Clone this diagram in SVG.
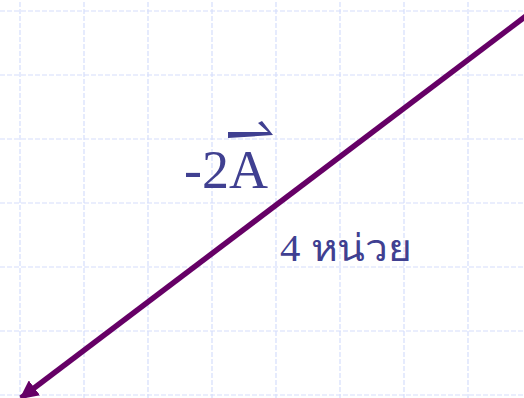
<svg xmlns="http://www.w3.org/2000/svg" width="524" height="398" viewBox="0 0 524 398">
  <style>
    .grid line { stroke: #d5defc; stroke-width: 1.2; stroke-dasharray: 5 2; }
    .lbl { font-family: "Liberation Serif", "Times New Roman", serif; fill: #404091; }
    .vec { stroke: #660066; stroke-width: 5.5; fill: none; }
  </style>
  <defs>
    <marker id="head" viewBox="0 0 10 10" refX="9" refY="5" markerWidth="3.4" markerHeight="3.4" orient="auto" markerUnits="strokeWidth">
      <path d="M0,0 L10,5 L0,10 Z" fill="#660066"/>
    </marker>
  </defs>
  <rect width="524" height="398" fill="#ffffff"/>
  <g id="grid" class="grid">
    <line x1="0" y1="11" x2="524" y2="11"/>
    <line x1="0" y1="75" x2="524" y2="75"/>
    <line x1="0" y1="139" x2="524" y2="139"/>
    <line x1="0" y1="203" x2="524" y2="203"/>
    <line x1="0" y1="267" x2="524" y2="267"/>
    <line x1="0" y1="331" x2="524" y2="331"/>
    <line x1="0" y1="395" x2="524" y2="395"/>
    <line x1="20" y1="2" x2="20" y2="398"/>
    <line x1="84" y1="2" x2="84" y2="398"/>
    <line x1="148" y1="2" x2="148" y2="398"/>
    <line x1="212" y1="2" x2="212" y2="398"/>
    <line x1="276" y1="2" x2="276" y2="398"/>
    <line x1="340" y1="2" x2="340" y2="398"/>
    <line x1="404" y1="2" x2="404" y2="398"/>
    <line x1="468" y1="2" x2="468" y2="398"/>
  </g>
  <g id="connectors">
    <line class="vec" x1="530" y1="13" x2="21" y2="398" marker-end="url(#head)"/>
  </g>
  <g id="label-vector">
    <text class="lbl" x="184" y="188" font-size="54">-2A</text>
    <path d="M228,132 L268,132 L258,123 L262,121 L273,135 L228,138 Z" fill="#404091"/>
  </g>
  <g id="label-length">
    <text class="lbl" x="280" y="261" font-size="37" textLength="132" lengthAdjust="spacingAndGlyphs">4 หน่วย</text>
  </g>
</svg>
